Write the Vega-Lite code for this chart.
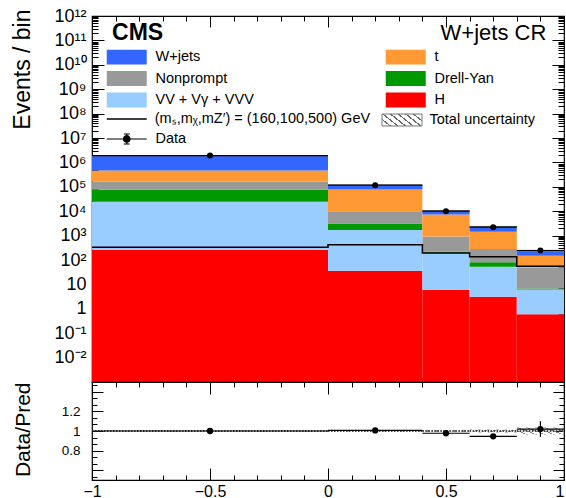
{
  "$schema": "https://vega.github.io/schema/vega-lite/v6.json",
  "padding": {"left": 10, "top": 6, "right": 3, "bottom": 0},
  "spacing": 0,
  "bounds": "flush",
  "config": {
    "font": "Liberation Sans",
    "view": {"stroke": "black", "strokeWidth": 1.2},
    "axis": {"domain": false, "grid": false, "tickColor": "black", "tickWidth": 1, "labelColor": "black", "titleColor": "black", "labelFont": "Liberation Sans", "titleFont": "Liberation Sans", "titleFontWeight": "normal"},
    "legend": {"labelFont": "Liberation Sans", "labelColor": "black"}
  },
  "datasets": {
    "bkg": [
      {"lo": -1, "hi": 0, "proc": "H", "n": 265},
      {"lo": -1, "hi": 0, "proc": "VV + Vγ + VVV", "n": 24400},
      {"lo": -1, "hi": 0, "proc": "Drell-Yan", "n": 50300},
      {"lo": -1, "hi": 0, "proc": "Nonprompt", "n": 90000},
      {"lo": -1, "hi": 0, "proc": "t", "n": 301000},
      {"lo": -1, "hi": 0, "proc": "W+jets", "n": 1434000},
      {"lo": 0, "hi": 0.4, "proc": "H", "n": 36},
      {"lo": 0, "hi": 0.4, "proc": "VV + Vγ + VVV", "n": 1660},
      {"lo": 0, "hi": 0.4, "proc": "Drell-Yan", "n": 1400},
      {"lo": 0, "hi": 0.4, "proc": "Nonprompt", "n": 6900},
      {"lo": 0, "hi": 0.4, "proc": "t", "n": 67000},
      {"lo": 0, "hi": 0.4, "proc": "W+jets", "n": 39000},
      {"lo": 0.4, "hi": 0.6, "proc": "H", "n": 6.0},
      {"lo": 0.4, "hi": 0.6, "proc": "VV + Vγ + VVV", "n": 194},
      {"lo": 0.4, "hi": 0.6, "proc": "Drell-Yan", "n": 18},
      {"lo": 0.4, "hi": 0.6, "proc": "Nonprompt", "n": 692},
      {"lo": 0.4, "hi": 0.6, "proc": "t", "n": 6490},
      {"lo": 0.4, "hi": 0.6, "proc": "W+jets", "n": 2900},
      {"lo": 0.6, "hi": 0.8, "proc": "H", "n": 3.1},
      {"lo": 0.6, "hi": 0.8, "proc": "VV + Vγ + VVV", "n": 50},
      {"lo": 0.6, "hi": 0.8, "proc": "Drell-Yan", "n": 27},
      {"lo": 0.6, "hi": 0.8, "proc": "Nonprompt", "n": 203},
      {"lo": 0.6, "hi": 0.8, "proc": "t", "n": 1167},
      {"lo": 0.6, "hi": 0.8, "proc": "W+jets", "n": 890},
      {"lo": 0.8, "hi": 1, "proc": "H", "n": 0.6},
      {"lo": 0.8, "hi": 1, "proc": "VV + Vγ + VVV", "n": 5.6},
      {"lo": 0.8, "hi": 1, "proc": "Drell-Yan", "n": 0.6},
      {"lo": 0.8, "hi": 1, "proc": "Nonprompt", "n": 43},
      {"lo": 0.8, "hi": 1, "proc": "t", "n": 101},
      {"lo": 0.8, "hi": 1, "proc": "W+jets", "n": 89}
    ],
    "sig": [
      {"x": -1, "n": 330, "sname": "(mₛ,mᵪ,mZ′) = (160,100,500) GeV"},
      {"x": 0, "n": 425, "sname": "(mₛ,mᵪ,mZ′) = (160,100,500) GeV"},
      {"x": 0.4, "n": 194, "sname": "(mₛ,mᵪ,mZ′) = (160,100,500) GeV"},
      {"x": 0.6, "n": 137, "sname": "(mₛ,mᵪ,mZ′) = (160,100,500) GeV"},
      {"x": 0.8, "n": 55, "sname": "(mₛ,mᵪ,mZ′) = (160,100,500) GeV"},
      {"x": 1, "n": 55, "sname": "(mₛ,mᵪ,mZ′) = (160,100,500) GeV"}
    ],
    "obs": [
      {"lo": -1, "hi": 0, "c": -0.5, "n": 1900000, "oname": "Data"},
      {"lo": 0, "hi": 0.4, "c": 0.2, "n": 116700, "oname": "Data"},
      {"lo": 0.4, "hi": 0.6, "c": 0.5, "n": 10060, "oname": "Data"},
      {"lo": 0.6, "hi": 0.8, "c": 0.7, "n": 2214, "oname": "Data"},
      {"lo": 0.8, "hi": 1, "c": 0.9, "n": 245, "oname": "Data"}
    ],
    "unc": [
      {"lo": -1, "hi": 0, "dlo": 1894000, "dhi": 1906000, "uname": "Total uncertainty"},
      {"lo": 0, "hi": 0.4, "dlo": 115400, "dhi": 116600, "uname": "Total uncertainty"},
      {"lo": 0.4, "hi": 0.6, "dlo": 10200, "dhi": 10400, "uname": "Total uncertainty"},
      {"lo": 0.6, "hi": 0.8, "dlo": 2305, "dhi": 2375, "uname": "Total uncertainty"},
      {"lo": 0.8, "hi": 1, "dlo": 231.6, "dhi": 248.4, "uname": "Total uncertainty"}
    ],
    "ratio": [
      {"lo": -1, "hi": 0, "c": -0.5, "r": 1.0, "rlo": 0.998, "rhi": 1.002, "ulo": 0.997, "uhi": 1.003},
      {"lo": 0, "hi": 0.4, "c": 0.2, "r": 1.006, "rlo": 1.0, "rhi": 1.012, "ulo": 0.995, "uhi": 1.005},
      {"lo": 0.4, "hi": 0.6, "c": 0.5, "r": 0.977, "rlo": 0.967, "rhi": 0.987, "ulo": 0.99, "uhi": 1.01},
      {"lo": 0.6, "hi": 0.8, "c": 0.7, "r": 0.946, "rlo": 0.925, "rhi": 0.967, "ulo": 0.985, "uhi": 1.015},
      {"lo": 0.8, "hi": 1, "c": 0.9, "r": 1.02, "rlo": 0.94, "rhi": 1.1, "ulo": 0.965, "uhi": 1.035}
    ]
  },
  "resolve": {
    "scale": {"fill": "independent", "stroke": "independent", "strokeWidth": "independent", "opacity": "independent"},
    "legend": {"fill": "independent", "stroke": "independent", "strokeWidth": "independent", "opacity": "independent"}
  },
  "vconcat": [
    {
      "width": 472,
      "height": 366,
      "resolve": {"axis": {"x": "independent", "y": "independent"}},
      "layer": [
        {
          "data": {"name": "bkg"},
          "transform": [{"stack": "n", "groupby": ["lo"], "as": ["y0", "y1"]}],
          "mark": {"type": "rect", "strokeWidth": 0},
          "encoding": {
            "x": {"field": "lo", "type": "quantitative", "scale": {"type": "linear", "domain": [-1, 1], "nice": false, "zero": false},
                  "axis": {"orient": "bottom", "values": [-1, -0.5, 0, 0.5, 1], "labels": false, "tickSize": -11, "title": null}},
            "x2": {"field": "hi"},
            "y": {"field": "y1", "type": "quantitative", "scale": {"type": "log", "domain": [0.001, 1e12], "nice": false, "clamp": true},
                  "axis": {"orient": "left", "values": [0.01, 0.1, 1, 10, 100, 1000, 10000, 100000, 1000000, 1e7, 1e8, 1e9, 1e10, 1e11, 1e12], "ticks": false,
                           "labelExpr": "datum.value == 1 ? '1' : datum.value == 10 ? '10' : '10' + ['⁻²','⁻¹','⁰','¹','²','³','⁴','⁵','⁶','⁷','⁸','⁹','¹⁰','¹¹','¹²'][round(log(datum.value)/LN10) + 2]",
                           "labelFontSize": 18, "labelPadding": 6,
                           "title": "Events / bin", "titleFontSize": 23, "titleX": -63, "titleY": -7, "titleAlign": "right", "titleAngle": 270, "titleBaseline": "alphabetic"}},
            "y2": {"field": "y0"},
            "fill": {"field": "proc", "type": "nominal",
                     "scale": {"domain": ["W+jets", "Nonprompt", "VV + Vγ + VVV", "t", "Drell-Yan", "H"],
                               "range": ["#3366ff", "#999999", "#99ccff", "#ff9933", "#009900", "#ff0000"]},
                     "legend": {"orient": "none", "legendX": 19, "legendY": 33.75, "columns": 2, "columnPadding": 131, "rowPadding": 5.5,
                                "symbolType": "M-2.857,-1.07H2.857V1.07H-2.857Z", "symbolSize": 196, "symbolStrokeWidth": 0,
                                "symbolOffset": 8.5, "labelOffset": 21.5, "labelFontSize": 14.5, "labelLimit": 300, "padding": 0, "title": null}}
          }
        },
        {
          "data": {"name": "unc"},
          "mark": {"type": "rect", "stroke": "#777777", "strokeWidth": 1,
                   "fill": {"gradient": "linear", "x1": 0, "y1": 0.6875, "x2": 1, "y2": 0.3125, "stops": [
                     {"offset": 0, "color": "rgba(255,255,255,0)"},
                     {"offset": 0.06, "color": "rgba(255,255,255,0)"}, {"offset": 0.06, "color": "#666666"}, {"offset": 0.1, "color": "#666666"}, {"offset": 0.1, "color": "rgba(255,255,255,0)"},
                     {"offset": 0.227, "color": "rgba(255,255,255,0)"}, {"offset": 0.227, "color": "#666666"}, {"offset": 0.267, "color": "#666666"}, {"offset": 0.267, "color": "rgba(255,255,255,0)"},
                     {"offset": 0.393, "color": "rgba(255,255,255,0)"}, {"offset": 0.393, "color": "#666666"}, {"offset": 0.433, "color": "#666666"}, {"offset": 0.433, "color": "rgba(255,255,255,0)"},
                     {"offset": 0.56, "color": "rgba(255,255,255,0)"}, {"offset": 0.56, "color": "#666666"}, {"offset": 0.6, "color": "#666666"}, {"offset": 0.6, "color": "rgba(255,255,255,0)"},
                     {"offset": 0.727, "color": "rgba(255,255,255,0)"}, {"offset": 0.727, "color": "#666666"}, {"offset": 0.767, "color": "#666666"}, {"offset": 0.767, "color": "rgba(255,255,255,0)"},
                     {"offset": 0.893, "color": "rgba(255,255,255,0)"}, {"offset": 0.893, "color": "#666666"}, {"offset": 0.933, "color": "#666666"}, {"offset": 0.933, "color": "rgba(255,255,255,0)"},
                     {"offset": 1, "color": "rgba(255,255,255,0)"}]}},
          "encoding": {
            "x": {"field": "lo", "type": "quantitative", "scale": {"type": "linear", "domain": [-1, 1], "nice": false, "zero": false}, "axis": null},
            "x2": {"field": "hi"},
            "y": {"field": "dlo", "type": "quantitative", "scale": {"type": "log", "domain": [0.001, 1e12], "nice": false, "clamp": true},
                  "axis": {"orient": "right", "values": [0.002,0.003,0.004,0.005,0.006,0.007,0.008,0.009,0.02,0.03,0.04,0.05,0.06,0.07,0.08,0.09,0.2,0.3,0.4,0.5,0.6,0.7,0.8,0.9,2,3,4,5,6,7,8,9,20,30,40,50,60,70,80,90,200,300,400,500,600,700,800,900,2000,3000,4000,5000,6000,7000,8000,9000,2e4,3e4,4e4,5e4,6e4,7e4,8e4,9e4,2e5,3e5,4e5,5e5,6e5,7e5,8e5,9e5,2e6,3e6,4e6,5e6,6e6,7e6,8e6,9e6,2e7,3e7,4e7,5e7,6e7,7e7,8e7,9e7,2e8,3e8,4e8,5e8,6e8,7e8,8e8,9e8,2e9,3e9,4e9,5e9,6e9,7e9,8e9,9e9,2e10,3e10,4e10,5e10,6e10,7e10,8e10,9e10,2e11,3e11,4e11,5e11,6e11,7e11,8e11,9e11], "labels": false, "tickSize": -6, "title": null}},
            "y2": {"field": "dhi"},
            "opacity": {"field": "uname", "type": "nominal", "scale": {"range": [1, 1]},
                        "legend": {"orient": "none", "legendX": 295, "legendY": 96.5,
                                   "symbolType": "M-2.857,-0.857H2.857V0.857H-2.857Z", "symbolSize": 196,
                                   "symbolStrokeWidth": 1,
                                   "symbolOffset": 7.5, "labelOffset": 20, "labelFontSize": 14.5, "padding": 0, "title": null}}
          }
        },
        {
          "data": {"name": "sig"},
          "mark": {"type": "line", "interpolate": "step-after", "strokeWidth": 1.5},
          "encoding": {
            "x": {"field": "x", "type": "quantitative", "scale": {"type": "linear", "domain": [-1, 1], "nice": false, "zero": false},
                  "axis": {"orient": "bottom", "values": [-0.9, -0.8, -0.7, -0.6, -0.4, -0.3, -0.2, -0.1, 0.1, 0.2, 0.3, 0.4, 0.6, 0.7, 0.8, 0.9], "labels": false, "tickSize": -5, "title": null}},
            "y": {"field": "n", "type": "quantitative", "scale": {"type": "log", "domain": [0.001, 1e12], "nice": false, "clamp": true},
                  "axis": {"orient": "left", "values": [0.001, 0.01, 0.1, 1, 10, 100, 1000, 10000, 100000, 1000000, 1e7, 1e8, 1e9, 1e10, 1e11, 1e12], "labels": false, "tickSize": -12, "title": null}},
            "stroke": {"field": "sname", "type": "nominal", "scale": {"range": ["black"]},
                       "legend": {"orient": "none", "legendX": 19, "legendY": 95, "symbolType": "M-2.857,0H2.857", "symbolSize": 196, "symbolStrokeWidth": 1.5,
                                  "symbolOffset": 7.75, "labelOffset": 20, "labelFontSize": 14.5, "labelLimit": 400, "padding": 0, "title": null}}
          }
        },
        {
          "data": {"name": "obs"},
          "mark": {"type": "rule", "color": "black"},
          "encoding": {
            "x": {"field": "lo", "type": "quantitative", "scale": {"type": "linear", "domain": [-1, 1], "nice": false, "zero": false},
                  "axis": {"orient": "top", "values": [-1, -0.5, 0, 0.5, 1], "labels": false, "tickSize": -11, "title": null}},
            "x2": {"field": "hi"},
            "y": {"field": "n", "type": "quantitative", "scale": {"type": "log", "domain": [0.001, 1e12], "nice": false, "clamp": true},
                  "axis": {"orient": "left", "values": [0.002,0.003,0.004,0.005,0.006,0.007,0.008,0.009,0.02,0.03,0.04,0.05,0.06,0.07,0.08,0.09,0.2,0.3,0.4,0.5,0.6,0.7,0.8,0.9,2,3,4,5,6,7,8,9,20,30,40,50,60,70,80,90,200,300,400,500,600,700,800,900,2000,3000,4000,5000,6000,7000,8000,9000,2e4,3e4,4e4,5e4,6e4,7e4,8e4,9e4,2e5,3e5,4e5,5e5,6e5,7e5,8e5,9e5,2e6,3e6,4e6,5e6,6e6,7e6,8e6,9e6,2e7,3e7,4e7,5e7,6e7,7e7,8e7,9e7,2e8,3e8,4e8,5e8,6e8,7e8,8e8,9e8,2e9,3e9,4e9,5e9,6e9,7e9,8e9,9e9,2e10,3e10,4e10,5e10,6e10,7e10,8e10,9e10,2e11,3e11,4e11,5e11,6e11,7e11,8e11,9e11], "labels": false, "tickSize": -6, "title": null}},
            "strokeWidth": {"field": "oname", "type": "nominal", "scale": {"range": [1.2, 1.2]},
                            "legend": {"orient": "none", "legendX": 19, "legendY": 115.75,
                                       "symbolType": "M-7.3,0H7.3M0,-1.83V1.83M-1.1,-1.83H1.1M-1.1,1.83H1.1M-1.2,0A1.2,1.2,0,1,0,1.2,0A1.2,1.2,0,1,0,-1.2,0M-0.85,0A0.85,0.85,0,1,0,0.85,0A0.85,0.85,0,1,0,-0.85,0M-0.5,0A0.5,0.5,0,1,0,0.5,0A0.5,0.5,0,1,0,-0.5,0M-0.2,0A0.2,0.2,0,1,0,0.2,0A0.2,0.2,0,1,0,-0.2,0",
                                       "symbolSize": 30, "symbolFillColor": "black", "symbolStrokeColor": "black",
                                       "symbolOffset": 8.5, "labelOffset": 21.5, "labelFontSize": 14.5, "padding": 0, "title": null}}
          }
        },
        {
          "data": {"name": "obs"},
          "mark": {"type": "point", "filled": true, "color": "black", "opacity": 1, "size": 36},
          "encoding": {
            "x": {"field": "c", "type": "quantitative", "scale": {"type": "linear", "domain": [-1, 1], "nice": false, "zero": false},
                  "axis": {"orient": "top", "values": [-0.9, -0.8, -0.7, -0.6, -0.4, -0.3, -0.2, -0.1, 0.1, 0.2, 0.3, 0.4, 0.6, 0.7, 0.8, 0.9], "labels": false, "tickSize": -5, "title": null}},
            "y": {"field": "n", "type": "quantitative", "scale": {"type": "log", "domain": [0.001, 1e12], "nice": false, "clamp": true},
                  "axis": {"orient": "right", "values": [0.001, 0.01, 0.1, 1, 10, 100, 1000, 10000, 100000, 1000000, 1e7, 1e8, 1e9, 1e10, 1e11, 1e12], "labels": false, "tickSize": -12, "title": null}}
          }
        },
        {
          "data": {"values": [{}]},
          "mark": {"type": "text", "text": "CMS", "fontSize": 23, "fontWeight": "bold", "align": "left", "baseline": "alphabetic", "color": "black"},
          "encoding": {
            "x": {"datum": -0.915, "type": "quantitative", "scale": {"type": "linear", "domain": [-1, 1], "nice": false, "zero": false}, "axis": null},
            "y": {"datum": 1.05e11, "type": "quantitative", "scale": {"type": "log", "domain": [0.001, 1e12], "nice": false, "clamp": true}, "axis": null}
          }
        },
        {
          "data": {"values": [{}]},
          "mark": {"type": "text", "text": "W+jets CR", "fontSize": 22, "align": "right", "baseline": "alphabetic", "color": "black"},
          "encoding": {
            "x": {"datum": 0.925, "type": "quantitative", "scale": {"type": "linear", "domain": [-1, 1], "nice": false, "zero": false}, "axis": null},
            "y": {"datum": 1.05e11, "type": "quantitative", "scale": {"type": "log", "domain": [0.001, 1e12], "nice": false, "clamp": true}, "axis": null}
          }
        }
      ]
    },
    {
      "width": 472,
      "height": 98,
      "data": {"name": "ratio"},
      "resolve": {"axis": {"x": "independent", "y": "independent"}},
      "layer": [
        {
          "mark": {"type": "rect", "strokeWidth": 0,
                   "fill": {"gradient": "linear", "x1": 0, "y1": 0.6875, "x2": 1, "y2": 0.3125, "stops": [
                     {"offset": 0, "color": "rgba(255,255,255,0)"},
                     {"offset": 0.06, "color": "rgba(255,255,255,0)"}, {"offset": 0.06, "color": "#888888"}, {"offset": 0.1, "color": "#888888"}, {"offset": 0.1, "color": "rgba(255,255,255,0)"},
                     {"offset": 0.227, "color": "rgba(255,255,255,0)"}, {"offset": 0.227, "color": "#888888"}, {"offset": 0.267, "color": "#888888"}, {"offset": 0.267, "color": "rgba(255,255,255,0)"},
                     {"offset": 0.393, "color": "rgba(255,255,255,0)"}, {"offset": 0.393, "color": "#888888"}, {"offset": 0.433, "color": "#888888"}, {"offset": 0.433, "color": "rgba(255,255,255,0)"},
                     {"offset": 0.56, "color": "rgba(255,255,255,0)"}, {"offset": 0.56, "color": "#888888"}, {"offset": 0.6, "color": "#888888"}, {"offset": 0.6, "color": "rgba(255,255,255,0)"},
                     {"offset": 0.727, "color": "rgba(255,255,255,0)"}, {"offset": 0.727, "color": "#888888"}, {"offset": 0.767, "color": "#888888"}, {"offset": 0.767, "color": "rgba(255,255,255,0)"},
                     {"offset": 0.893, "color": "rgba(255,255,255,0)"}, {"offset": 0.893, "color": "#888888"}, {"offset": 0.933, "color": "#888888"}, {"offset": 0.933, "color": "rgba(255,255,255,0)"},
                     {"offset": 1, "color": "rgba(255,255,255,0)"}]}},
          "encoding": {
            "x": {"field": "lo", "type": "quantitative", "scale": {"type": "linear", "domain": [-1, 1], "nice": false, "zero": false},
                  "axis": {"orient": "bottom", "values": [-1, -0.5, 0, 0.5, 1], "format": "~g", "ticks": false, "labelFontSize": 16, "labelPadding": 3,
                           "labelAlign": {"condition": {"test": "datum.value == 1", "value": "right"}, "value": "center"}, "title": null}},
            "x2": {"field": "hi"},
            "y": {"field": "ulo", "type": "quantitative", "scale": {"type": "linear", "domain": [0.5, 1.5], "nice": false, "zero": false},
                  "axis": {"orient": "left", "values": [0.8, 1, 1.2], "format": "~g", "ticks": false, "labelFontSize": 13.5, "labelPadding": 12,
                           "title": "Data/Pred", "titleFontSize": 21, "titleX": -63, "titleY": 0, "titleAlign": "right", "titleAngle": 270, "titleBaseline": "alphabetic"}},
            "y2": {"field": "uhi"}
          }
        },
        {
          "mark": {"type": "rule", "color": "#444444", "strokeWidth": 2, "strokeDash": [1.5, 1.5]},
          "encoding": {
            "x": {"field": "lo", "type": "quantitative", "scale": {"type": "linear", "domain": [-1, 1], "nice": false, "zero": false},
                  "axis": {"orient": "bottom", "values": [-1, -0.5, 0, 0.5, 1], "labels": false, "tickSize": -12, "title": null}},
            "x2": {"field": "hi"},
            "y": {"datum": 1, "type": "quantitative", "scale": {"type": "linear", "domain": [0.5, 1.5], "nice": false, "zero": false},
                  "axis": {"orient": "left", "values": [0.6, 0.8, 1, 1.2, 1.4], "labels": false, "tickSize": -11, "title": null}}
          }
        },
        {
          "mark": {"type": "rule", "color": "black", "strokeWidth": 1.2},
          "encoding": {
            "x": {"field": "lo", "type": "quantitative", "scale": {"type": "linear", "domain": [-1, 1], "nice": false, "zero": false},
                  "axis": {"orient": "bottom", "values": [-0.9, -0.8, -0.7, -0.6, -0.4, -0.3, -0.2, -0.1, 0.1, 0.2, 0.3, 0.4, 0.6, 0.7, 0.8, 0.9], "labels": false, "tickSize": -5, "title": null}},
            "x2": {"field": "hi"},
            "y": {"field": "r", "type": "quantitative", "scale": {"type": "linear", "domain": [0.5, 1.5], "nice": false, "zero": false},
                  "axis": {"orient": "left", "values": [0.5333, 0.6667, 0.7333, 0.8667, 0.9333, 1.0667, 1.1333, 1.2667, 1.3333, 1.4667], "labels": false, "tickSize": -5, "title": null}}
          }
        },
        {
          "mark": {"type": "rule", "color": "black", "strokeWidth": 1.2},
          "encoding": {
            "x": {"field": "c", "type": "quantitative", "scale": {"type": "linear", "domain": [-1, 1], "nice": false, "zero": false},
                  "axis": {"orient": "top", "values": [-1, -0.5, 0, 0.5, 1], "labels": false, "tickSize": -12, "title": null}},
            "y": {"field": "rlo", "type": "quantitative", "scale": {"type": "linear", "domain": [0.5, 1.5], "nice": false, "zero": false},
                  "axis": {"orient": "right", "values": [0.6, 0.8, 1, 1.2, 1.4], "labels": false, "tickSize": -11, "title": null}},
            "y2": {"field": "rhi"}
          }
        },
        {
          "mark": {"type": "point", "filled": true, "color": "black", "opacity": 1, "size": 40},
          "encoding": {
            "x": {"field": "c", "type": "quantitative", "scale": {"type": "linear", "domain": [-1, 1], "nice": false, "zero": false},
                  "axis": {"orient": "top", "values": [-0.9, -0.8, -0.7, -0.6, -0.4, -0.3, -0.2, -0.1, 0.1, 0.2, 0.3, 0.4, 0.6, 0.7, 0.8, 0.9], "labels": false, "tickSize": -5, "title": null}},
            "y": {"field": "r", "type": "quantitative", "scale": {"type": "linear", "domain": [0.5, 1.5], "nice": false, "zero": false},
                  "axis": {"orient": "right", "values": [0.5333, 0.6667, 0.7333, 0.8667, 0.9333, 1.0667, 1.1333, 1.2667, 1.3333, 1.4667], "labels": false, "tickSize": -5, "title": null}}
          }
        }
      ]
    }
  ]
}
